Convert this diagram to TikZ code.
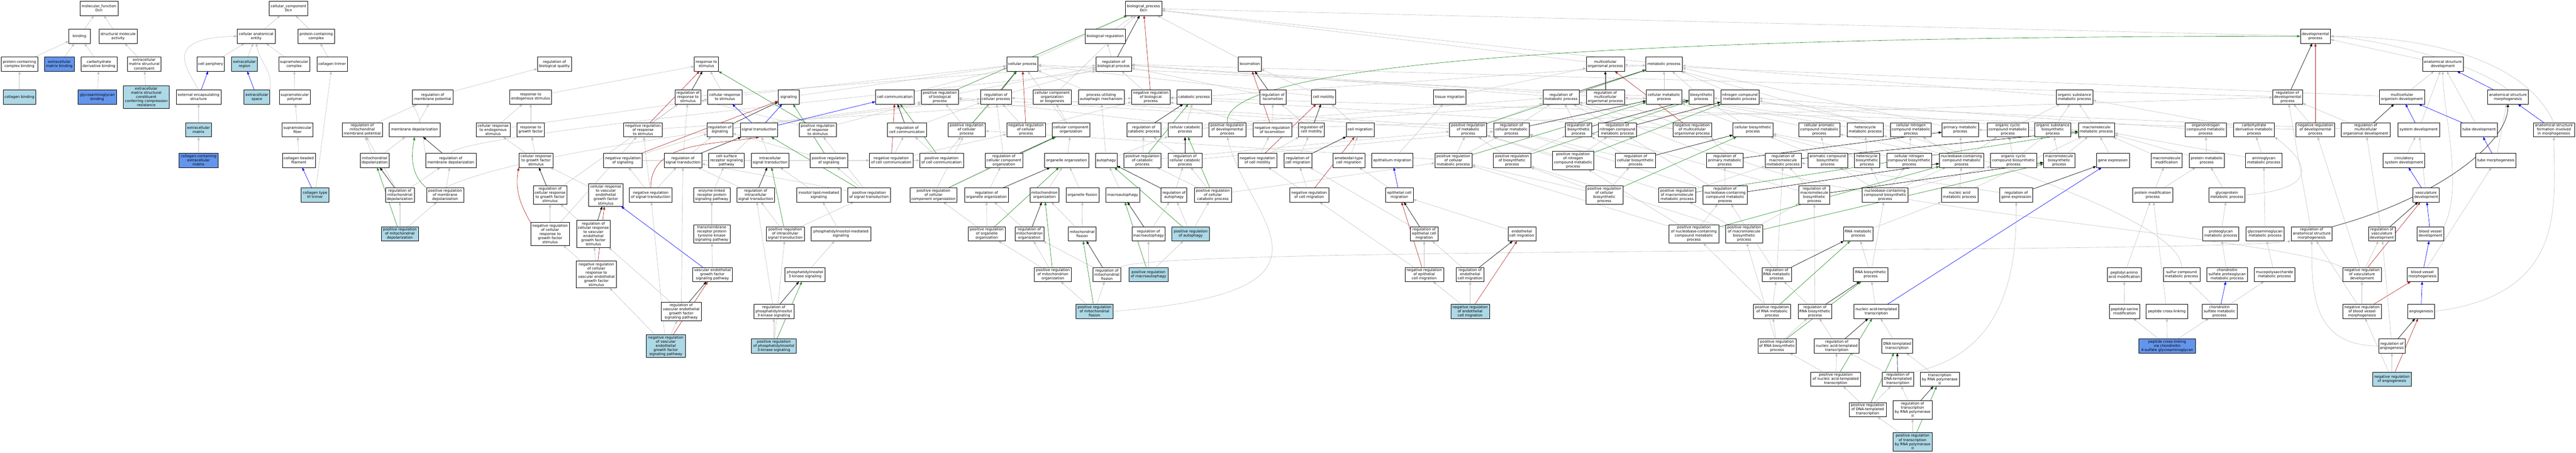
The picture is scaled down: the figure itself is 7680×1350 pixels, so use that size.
\documentclass[tikz,border=0pt]{standalone}
\usepackage{fontspec}
\setmainfont{DejaVu Sans}
\usetikzlibrary{arrows.meta}
\definecolor{lbl}{HTML}{ADD8E6}
\definecolor{cbl}{HTML}{6495ED}
\definecolor{egr}{HTML}{C0C0C0}
\definecolor{egreen}{HTML}{228B22}
\definecolor{ered}{HTML}{B22222}
\pgfdeclarelayer{back}\pgfdeclarelayer{edges}
\pgfsetlayers{back,edges,main}
\tikzset{
 nd/.style={draw=black, line width=0.9pt, fill=white, rectangle, inner sep=0pt, align=center,
   font=\fontsize{10.8}{12.4}\selectfont, minimum height=42pt},
 lbf/.style={fill=lbl}, cbf/.style={fill=cbl},
 hfive/.style={minimum height=55pt}, hsix/.style={minimum height=68pt}, hseven/.style={minimum height=80pt},
 tipx/.style={-{Triangle[length=9pt,width=7pt]}},
 ge/.style={tipx, draw=egr, line width=0.9pt},
 ke/.style={tipx, draw=black, line width=1pt},
 pe/.style={tipx, draw=egreen, line width=1pt},
 ne/.style={tipx, draw=ered, line width=1pt},
 be/.style={tipx, draw=blue, line width=1pt},
}
\newcommand\mkn[6]{\node[nd,minimum width=#4pt,#5] (#1) at (#2,#3) {#6};}
\begin{document}
\begin{tikzpicture}[x=1pt,y=-1pt]
\useasboundingbox (0,0) rectangle (7680,1350);
\begin{pgfonlayer}{back}\fill[white] (0,0) rectangle (7680,1350);\end{pgfonlayer}
% ---------- molecular function
\mkn{mf}{295}{25}{113}{}{molecular\_function\\Dcn}
\mkn{bind}{237}{108}{63}{}{binding}
\mkn{sma}{352}{108}{113}{}{structural molecule\\activity}
\mkn{pcb}{58}{191}{109}{}{protein-containing\\complex binding}
\mkn{ecmb}{177}{191}{88}{cbf}{extracellular\\matrix binding}
\mkn{cdb}{295}{191}{107}{}{carbohydrate\\derivative binding}
\mkn{ecmsc}{430}{191}{100}{}{extracellular\\matrix structural\\constituent}
\mkn{colb}{58}{289}{98}{lbf}{collagen binding}
\mkn{gagb}{290}{289}{114}{cbf}{glycosaminoglycan\\binding}
\mkn{ecmcr}{436}{289}{137}{lbf,hsix}{extracellular\\matrix structural\\constituent\\conferring compression\\resistance}
% ---------- cellular component
\mkn{cc}{860}{25}{116}{}{cellular\_component\\Dcn}
\mkn{cae}{764}{108}{113}{}{cellular anatomical\\entity}
\mkn{pcc}{943}{108}{108}{}{protein-containing\\complex}
\mkn{cper}{628}{191}{81}{}{cell periphery}
\mkn{exreg}{729}{191}{77}{lbf}{extracellular\\region}
\mkn{smc}{877}{191}{92}{}{supramolecular\\complex}
\mkn{coltri}{990}{191}{91}{}{collagen trimer}
\mkn{ees}{592}{289}{134}{}{external encapsulating\\structure}
\mkn{exsp}{766}{289}{77}{lbf}{extracellular\\space}
\mkn{smp}{879}{289}{92}{}{supramolecular\\polymer}
\mkn{ecm}{592}{387}{77}{lbf}{extracellular\\matrix}
\mkn{smf}{887}{387}{92}{}{supramolecular\\fiber}
\mkn{ccecm}{592}{478}{116}{cbf}{collagen-containing\\extracellular\\matrix}
\mkn{cbf}{891}{478}{98}{}{collagen beaded\\filament}
\mkn{col6}{939}{581}{82}{lbf}{collagen type\\VI trimer}
% ---------- membrane potential
\mkn{rmp}{1290}{289}{120}{}{regulation of\\membrane potential}
\mkn{rmmp}{1080}{387}{120}{}{regulation of\\mitochondrial\\membrane potential}
\mkn{mdep}{1236}{387}{151}{}{membrane depolarization}
\mkn{mitdep}{1117}{478}{86}{}{mitochondrial\\depolarization}
\mkn{rmdep}{1344}{478}{150}{}{regulation of\\membrane depolarization}
\mkn{rmitdep}{1192}{581}{86}{}{regulation of\\mitochondrial\\depolarization}
\mkn{prmdep}{1327}{581}{111}{}{positive regulation\\of membrane\\depolarization}
\mkn{prmitdep}{1192}{697}{111}{lbf}{positive regulation\\of mitochondrial\\depolarization}
% ---------- response / signaling
\mkn{rbq}{1653}{191}{102}{}{regulation of\\biological quality}
\mkn{res}{1582}{289}{124}{}{response to\\endogenous stimulus}
\mkn{cres}{1470}{387}{101}{}{cellular response\\to endogenous\\stimulus}
\mkn{rgf}{1582}{387}{81}{}{response to\\growth factor}
\mkn{crgf}{1598}{478}{102}{}{cellular response\\to growth factor\\stimulus}
\mkn{nrrs}{1917}{387}{115}{}{negative regulation\\of response\\to stimulus}
\mkn{nrsig}{1857}{478}{115}{}{negative regulation\\of signaling}
\mkn{rcrgf}{1640}{581}{101}{hfive}{regulation of\\cellular response\\to growth factor\\stimulus}
\mkn{crvegf}{1806}{581}{102}{hsix}{cellular response\\to vascular\\endothelial\\growth factor\\stimulus}
\mkn{nrst}{1940}{581}{127}{}{negative regulation\\of signal transduction}
\mkn{nrcrgf}{1640}{697}{116}{hsix}{negative regulation\\of cellular\\response to\\growth factor\\stimulus}
\mkn{rcrvegf}{1769}{697}{101}{hseven}{regulation of\\cellular response\\to vascular\\endothelial\\growth factor\\stimulus}
\mkn{nrcrvegf}{1778}{818}{120}{hseven}{negative regulation\\of cellular\\response to\\vascular endothelial\\growth factor\\stimulus}
\mkn{rs}{2106}{191}{72}{}{response to\\stimulus}
\mkn{rrs}{2051}{289}{76}{}{regulation of\\response to\\stimulus}
\mkn{crs}{2161}{289}{102}{}{cellular response\\to stimulus}
\mkn{sig}{2351}{289}{62}{}{signaling}
\mkn{rsig}{2146}{387}{76}{}{regulation of\\signaling}
\mkn{st}{2263}{387}{112}{}{signal transduction}
\mkn{prrs}{2438}{387}{110}{}{positive regulation\\of response\\to stimulus}
\mkn{rst}{2036}{478}{112}{}{regulation of\\signal transduction}
\mkn{csr}{2166}{478}{106}{}{cell surface\\receptor signaling\\pathway}
\mkn{ist}{2296}{478}{112}{}{intracellular\\signal transduction}
\mkn{prsig}{2471}{478}{111}{}{positive regulation\\of signaling}
\mkn{elr}{2122}{581}{109}{}{enzyme-linked\\receptor protein\\signaling pathway}
\mkn{rist}{2253}{581}{113}{}{regulation of\\intracellular\\signal transduction}
\mkn{ilms}{2441}{581}{132}{}{inositol lipid-mediated\\signaling}
\mkn{prst}{2591}{581}{127}{}{positive regulation\\of signal transduction}
\mkn{rtk}{2122}{697}{109}{hfive}{transmembrane\\receptor protein\\tyrosine kinase\\signaling pathway}
\mkn{prist}{2341}{697}{113}{}{positive regulation\\of intracellular\\signal transduction}
\mkn{pims}{2507}{697}{178}{}{phosphatidylinositol-mediated\\signaling}
\mkn{vegfsp}{2124}{818}{119}{}{vascular endothelial\\growth factor\\signaling pathway}
\mkn{pi3k}{2400}{818}{119}{}{phosphatidylinositol\\3-kinase signaling}
\mkn{rvegfsp}{2031}{928}{120}{hfive}{regulation of\\vascular endothelial\\growth factor\\signaling pathway}
\mkn{rpi3k}{2307}{928}{120}{}{regulation of\\phosphatidylinositol\\3-kinase signaling}
\mkn{nrvegfsp}{1985}{1031}{116}{lbf,hsix}{negative regulation\\of vascular\\endothelial\\growth factor\\signaling pathway}
\mkn{prpi3k}{2307}{1031}{134}{lbf}{positive regulation\\of phosphatidylinositol\\3-kinase signaling}
% ---------- cellular process block
\mkn{comm}{2668}{289}{116}{}{cell communication}
\mkn{prbp}{2802}{289}{111}{}{positive regulation\\of biological\\process}
\mkn{cp}{3048}{191}{93}{}{cellular process}
\mkn{rcp}{2969}{289}{92}{}{regulation of\\cellular process}
\mkn{ccob}{3137}{289}{113}{}{cellular component\\organization\\or biogenesis}
\mkn{rcomm}{2704}{387}{116}{}{regulation of\\cell communication}
\mkn{prcp}{2882}{387}{111}{}{positive regulation\\of cellular\\process}
\mkn{nrcp}{3059}{387}{116}{}{negative regulation\\of cellular\\process}
\mkn{cco}{3193}{387}{113}{}{cellular component\\organization}
\mkn{nrcomm}{2657}{478}{130}{}{negative regulation\\of cell communication}
\mkn{prcomm}{2807}{478}{130}{}{positive regulation\\of cell communication}
\mkn{rcco}{2993}{478}{113}{}{regulation of\\cellular component\\organization}
\mkn{oo}{3180}{478}{132}{}{organelle organization}
\mkn{prcco}{2783}{581}{141}{}{positive regulation\\of cellular\\component organization}
\mkn{roo}{2941}{581}{131}{}{regulation of\\organelle organization}
\mkn{mo}{3114}{581}{86}{}{mitochondrion\\organization}
\mkn{ofis}{3227}{581}{98}{}{organelle fission}
\mkn{proo}{2942}{697}{110}{}{positive regulation\\of organelle\\organization}
\mkn{rmo}{3069}{697}{86}{}{regulation of\\mitochondrion\\organization}
\mkn{mf2}{3226}{697}{83}{}{mitochondrial\\fission}
\mkn{prmo}{3139}{818}{111}{}{positive regulation\\of mitochondrion\\organization}
% ---------- biological process core
\mkn{bp}{3409}{25}{109}{}{biological\_process\\Dcn}
\mkn{breg}{3295}{108}{120}{}{biological regulation}
\mkn{rbp}{3320}{191}{106}{}{regulation of\\biological process}
\mkn{loco}{3726}{191}{68}{}{locomotion}
\mkn{puam}{3283}{289}{137}{}{process utilizing\\autophagic mechanism}
\mkn{nrbp}{3431}{289}{115}{}{negative regulation\\of biological\\process}
\mkn{catp}{3560}{289}{102}{}{catabolic process}
\mkn{rloco}{3795}{289}{77}{}{regulation of\\locomotion}
\mkn{rcatp}{3410}{387}{102}{}{regulation of\\catabolic process}
\mkn{ccatp}{3533}{387}{102}{}{cellular catabolic\\process}
\mkn{prdp}{3659}{387}{111}{}{positive regulation\\of developmental\\process}
\mkn{nrloco}{3793}{387}{115}{}{negative regulation\\of locomotion}
\mkn{auto}{3298}{478}{64}{}{autophagy}
\mkn{prcatp}{3406}{478}{111}{}{positive regulation\\of catabolic\\process}
\mkn{rccatp}{3533}{478}{102}{}{regulation of\\cellular catabolic\\process}
\mkn{nrcm}{3749}{478}{116}{}{negative regulation\\of cell motility}
\mkn{rcmig}{3869}{478}{83}{}{regulation of\\cell migration}
\mkn{macro}{3347}{581}{101}{}{macroautophagy}
\mkn{rauto}{3500}{581}{77}{}{regulation of\\autophagy}
\mkn{prccatp}{3616}{581}{111}{}{positive regulation\\of cellular\\catabolic process}
\mkn{rmacro}{3424}{697}{99}{}{regulation of\\macroautophagy}
\mkn{prauto}{3550}{697}{112}{lbf}{positive regulation\\of autophagy}
\mkn{rmfis}{3300}{818}{83}{}{regulation of\\mitochondrial\\fission}
\mkn{prmacro}{3424}{818}{116}{lbf}{positive regulation\\of macroautophagy}
\mkn{prmfis}{3263}{928}{111}{lbf}{positive regulation\\of mitochondrial\\fission}
% ---------- motility
\mkn{cmot}{3946}{289}{72}{}{cell motility}
\mkn{tmig}{4322}{289}{97}{}{tissue migration}
\mkn{rcmot}{3910}{387}{77}{}{regulation of\\cell motility}
\mkn{cmig}{4055}{387}{83}{}{cell migration}
\mkn{prmp}{4377}{387}{111}{}{positive regulation\\of metabolic\\process}
\mkn{rcmp}{4506}{387}{107}{}{regulation of\\cellular metabolic\\process}
\mkn{amig}{4021}{478}{95}{}{ameboidal-type\\cell migration}
\mkn{emig}{4151}{478}{123}{}{epithelium migration}
\mkn{prcmp}{4333}{478}{110}{}{positive regulation\\of cellular\\metabolic process}
\mkn{prbsp}{4508}{478}{112}{}{positive regulation\\of biosynthetic\\process}
\mkn{nrcmig}{3903}{581}{116}{}{negative regulation\\of cell migration}
\mkn{ecmig}{4172}{581}{82}{}{epithelial cell\\migration}
\mkn{recmig}{4246}{697}{82}{}{regulation of\\epithelial cell\\migration}
\mkn{nrecmig}{4246}{818}{115}{}{negative regulation\\of epithelial\\cell migration}
\mkn{rendmig}{4383}{818}{83}{}{regulation of\\endothelial\\cell migration}
\mkn{nrendmig}{4383}{928}{115}{lbf}{negative regulation\\of endothelial\\cell migration}
% ---------- metabolism
\mkn{mop}{4786}{191}{114}{}{multicellular\\organismal process}
\mkn{metp}{4961}{191}{108}{}{metabolic process}
\mkn{rmetp}{4654}{289}{108}{}{regulation of\\metabolic process}
\mkn{rmop}{4786}{289}{114}{}{regulation of\\multicellular\\organismal process}
\mkn{cmetp}{4961}{289}{106}{}{cellular metabolic\\process}
\mkn{bsp}{5072}{289}{74}{}{biosynthetic\\process}
\mkn{rbsp}{4706}{387}{77}{}{regulation of\\biosynthetic\\process}
\mkn{rncmp}{4822}{387}{113}{}{regulation of\\nitrogen compound\\metabolic process}
\mkn{nrmop}{5045}{387}{115}{}{negative regulation\\of multicellular\\organismal process}
\mkn{prncmp}{4690}{478}{123}{hfive}{positive regulation\\of nitrogen\\compound metabolic\\process}
\mkn{rcbsp}{4876}{478}{120}{}{regulation of\\cellular biosynthetic\\process}
\mkn{rpmp}{5142}{478}{108}{}{regulation of\\primary metabolic\\process}
\mkn{prcbsp}{4783}{581}{111}{hfive}{positive regulation\\of cellular\\biosynthetic\\process}
\mkn{prmmp}{5000}{581}{111}{}{positive regulation\\of macromolecule\\metabolic process}
\mkn{rnbmp}{5143}{581}{131}{hfive}{regulation of\\nucleobase-containing\\compound metabolic\\process}
\mkn{endmig}{4537}{697}{83}{}{endothelial\\cell migration}
\mkn{prnbmp}{5050}{697}{148}{hfive}{positive regulation\\of nucleobase-containing\\compound metabolic\\process}
\mkn{ncmp}{5187}{289}{114}{}{nitrogen compound\\metabolic process}
\mkn{cbsp}{5226}{387}{119}{}{cellular biosynthetic\\process}
\mkn{camp}{5424}{387}{122}{}{cellular aromatic\\compound metabolic\\process}
\mkn{hmp}{5561}{387}{108}{}{heterocycle\\metabolic process}
\mkn{cncmp}{5697}{387}{122}{}{cellular nitrogen\\compound metabolic\\process}
\mkn{rmmp2}{5316}{478}{108}{}{regulation of\\macromolecule\\metabolic process}
\mkn{acbsp}{5449}{478}{118}{}{aromatic compound\\biosynthetic\\process}
\mkn{hbsp}{5566}{478}{75}{}{heterocycle\\biosynthetic\\process}
\mkn{cncbsp}{5692}{478}{133}{}{cellular nitrogen\\compound biosynthetic\\process}
\mkn{rmbsp}{5409}{581}{92}{hfive}{regulation of\\macromolecule\\biosynthetic\\process}
\mkn{nbbsp}{5620}{581}{137}{}{nucleobase-containing\\compound biosynthetic\\process}
\mkn{prmbsp}{5200}{697}{111}{hfive}{positive regulation\\of macromolecule\\biosynthetic\\process}
\mkn{rnamp}{5540}{697}{88}{}{RNA metabolic\\process}
\mkn{rrnamp}{5297}{818}{88}{}{regulation of\\RNA metabolic\\process}
\mkn{rnabsp}{5577}{818}{102}{}{RNA biosynthetic\\process}
\mkn{prrnamp}{5283}{928}{111}{}{positive regulation\\of RNA metabolic\\process}
\mkn{rrnabsp}{5411}{928}{101}{}{regulation of\\RNA biosynthetic\\process}
\mkn{natt}{5594}{928}{133}{}{nucleic acid-templated\\transcription}
\mkn{prrnabsp}{5298}{1031}{115}{}{positive regulation\\of RNA biosynthetic\\process}
\mkn{rnatt}{5476}{1031}{134}{}{regulation of\\nucleic acid-templated\\transcription}
\mkn{dtt}{5656}{1031}{92}{}{DNA-templated\\transcription}
\mkn{prnatt}{5473}{1130}{149}{}{positive regulation\\of nucleic acid-templated\\transcription}
\mkn{rdtt}{5658}{1130}{93}{}{regulation of\\DNA-templated\\transcription}
\mkn{trp2}{5783}{1130}{117}{}{transcription\\by RNA polymerase\\II}
\mkn{prdtt}{5568}{1221}{111}{}{positive regulation\\of DNA-templated\\transcription}
\mkn{rtrp2}{5702}{1221}{116}{hfive}{regulation of\\transcription\\by RNA polymerase\\II}
\mkn{prtrp2}{5702}{1317}{116}{lbf,hfive}{positive regulation\\of transcription\\by RNA polymerase\\II}
\mkn{osmp}{6185}{289}{108}{}{organic substance\\metabolic process}
\mkn{pmp}{5844}{387}{109}{}{primary metabolic\\process}
\mkn{occmp}{5986}{387}{123}{}{organic cyclic\\compound metabolic\\process}
\mkn{osbsp}{6120}{387}{107}{}{organic substance\\biosynthetic\\process}
\mkn{mmp}{6250}{387}{108}{}{macromolecule\\metabolic process}
\mkn{nbmp}{5848}{478}{132}{}{nucleobase-containing\\compound metabolic\\process}
\mkn{occbsp}{6003}{478}{137}{}{organic cyclic\\compound biosynthetic\\process}
\mkn{mbsp}{6139}{478}{93}{}{macromolecule\\biosynthetic\\process}
\mkn{gexp}{6299}{478}{98}{}{gene expression}
\mkn{namp}{5842}{581}{109}{}{nucleic acid\\metabolic process}
\mkn{rgexp}{6011}{581}{98}{}{regulation of\\gene expression}
\mkn{pmod}{6418}{581}{119}{}{protein modification\\process}
\mkn{paam}{6333}{818}{102}{}{peptidyl-amino\\acid modification}
\mkn{psm}{6334}{928}{90}{}{peptidyl-serine\\modification}
\mkn{pcl}{6460}{928}{124}{}{peptide cross-linking}
\mkn{pclcs}{6461}{1031}{169}{cbf}{peptide cross-linking\\via chondroitin\\4-sulfate glycosaminoglycan}
% ---------- development
\mkn{dp}{6903}{108}{90}{}{developmental\\process}
\mkn{rdp}{6820}{289}{89}{}{regulation of\\developmental\\process}
\mkn{oncmp}{6576}{387}{123}{}{organonitrogen\\compound metabolic\\process}
\mkn{cdmp}{6720}{387}{122}{}{carbohydrate\\derivative metabolic\\process}
\mkn{nrdp}{6903}{387}{115}{}{negative regulation\\of developmental\\process}
\mkn{rmod}{7053}{387}{147}{}{regulation of\\multicellular\\organismal development}
\mkn{mmod}{6459}{478}{92}{}{macromolecule\\modification}
\mkn{protmp}{6579}{478}{104}{}{protein metabolic\\process}
\mkn{amgmp}{6749}{478}{108}{}{aminoglycan\\metabolic process}
\mkn{gpmp}{6639}{581}{108}{}{glycoprotein\\metabolic process}
\mkn{pgmp}{6621}{697}{108}{}{proteoglycan\\metabolic process}
\mkn{gagmp}{6753}{697}{114}{}{glycosaminoglycan\\metabolic process}
\mkn{rasm}{6892}{697}{122}{}{regulation of\\anatomical structure\\morphogenesis}
\mkn{scmp}{6504}{818}{109}{}{sulfur compound\\metabolic process}
\mkn{cspg}{6640}{818}{121}{}{chondroitin\\sulfate proteoglycan\\metabolic process}
\mkn{mpsmp}{6781}{818}{121}{}{mucopolysaccharide\\metabolic process}
\mkn{nrvd}{7042}{818}{116}{}{negative regulation\\of vasculature\\development}
\mkn{csmp}{6617}{928}{104}{}{chondroitin\\sulfate metabolic\\process}
\mkn{nrbvm}{7042}{928}{116}{}{negative regulation\\of blood vessel\\morphogenesis}
\mkn{asd}{7283}{191}{122}{}{anatomical structure\\development}
\mkn{mod}{7161}{289}{136}{}{multicellular\\organism development}
\mkn{asm}{7477}{289}{122}{}{anatomical structure\\morphogenesis}
\mkn{sysd}{7211}{387}{124}{}{system development}
\mkn{tubed}{7391}{387}{108}{}{tube development}
\mkn{asfm}{7614}{387}{122}{}{anatomical structure\\formation involved\\in morphogenesis}
\mkn{csd}{7167}{478}{124}{}{circulatory\\system development}
\mkn{tubem}{7441}{478}{119}{}{tube morphogenesis}
\mkn{vd}{7233}{581}{79}{}{vasculature\\development}
\mkn{rvd}{7101}{697}{79}{}{regulation of\\vasculature\\development}
\mkn{bvd}{7246}{697}{79}{}{blood vessel\\development}
\mkn{bvm}{7222}{818}{92}{}{blood vessel\\morphogenesis}
\mkn{angio}{7218}{928}{79}{}{angiogenesis}
\mkn{rangio}{7131}{1031}{79}{}{regulation of\\angiogenesis}
\mkn{nrangio}{7131}{1130}{116}{lbf}{negative regulation\\of angiogenesis}
% ================= edges
\begin{pgfonlayer}{edges}
\foreach \a/\b in {bind/mf, sma/mf, pcb/bind, ecmb/bind, cdb/bind, ecmsc/sma, colb/pcb, gagb/cdb, ecmcr/ecmsc,
 cae/cc, pcc/cc, cper/cae, exreg/cae, smc/cae, coltri/pcc, smp/smc, smf/smp, cbf/smf, col6/coltri, ecm/ees, ccecm/ecm,
 rmmp/rmp, mdep/rmp, rmp/rbq, mitdep/rmmp, mitdep/mdep, rmitdep/rmdep, rmitdep/rmmp, prmdep/rmdep, prmitdep/rmitdep, prmitdep/prmdep,
 res/rs, cres/res, cres/crs, rgf/res, crgf/rgf, crgf/cres, rcrgf/rrs, nrcrgf/rcrgf, nrcrgf/nrrs, crvegf/crgf, rcrvegf/rcrgf,
 nrcrvegf/rcrvegf, nrcrvegf/nrcrgf, rvegfsp/rcrvegf, nrvegfsp/nrcrvegf,
 nrrs/rrs, nrrs/nrbp, nrsig/rsig, nrsig/nrcomm, nrst/nrsig, nrst/rst, nrst/nrrs,
 rrs/rbp, crs/rs, crs/cp, sig/cp, rsig/rcp, prrs/rrs, prrs/prbp, rst/rsig, rst/rrs, csr/st, ist/st, prsig/rsig, prsig/prcomm,
 elr/csr, rist/rst, ilms/ist, prst/rst, prst/prsig, prst/prrs, rtk/elr, prist/rist, prist/prst, pims/ilms, vegfsp/rtk, pi3k/pims,
 rvegfsp/rst, rpi3k/rist, nrvegfsp/rvegfsp, nrvegfsp/nrst, prpi3k/rpi3k, prpi3k/prist,
 comm/cp, rcomm/rcp, nrcomm/rcomm, nrcomm/nrcp, prcomm/rcomm, prcomm/prcp, prbp/rbp, rcp/rbp, nrcp/rcp, nrcp/nrbp, prcp/rcp,
 prcp/prbp, cp/bp, ccob/bp, cco/ccob, cco/cp, rcco/rcp, prcco/rcco, prcco/prcp, oo/cco, roo/rcco, mo/oo, ofis/oo, proo/roo,
 proo/prcco, rmo/roo, mf2/ofis, mf2/mo, prmo/rmo, prmo/proo, rmfis/rmo, prmfis/rmfis, prmfis/prmo,
 breg/bp, rbp/breg, nrbp/rbp, loco/bp, puam/cp, catp/metp, rloco/rbp, rcatp/rmetp, ccatp/catp, ccatp/cmetp, prdp/prbp, prdp/rdp,
 nrloco/rloco, nrloco/nrbp, auto/puam, auto/ccatp, prcatp/rcatp, prcatp/prmp, rccatp/rcatp, rccatp/rcmp, nrcm/nrloco, nrcm/rcmot,
 rcmig/rcmot, macro/auto, rauto/rccatp, prccatp/rccatp, prccatp/prcatp, prccatp/prcmp, rmacro/rauto, prauto/rauto, prauto/prccatp,
 prmacro/rmacro, prmacro/prauto,
 cmot/loco, cmot/cp, tmig/mop, rcmot/rloco, cmig/cmot, amig/cmig, emig/tmig, nrcmig/rcmig, nrcmig/nrcm, ecmig/amig, recmig/rcmig,
 nrecmig/recmig, nrecmig/nrcmig, rendmig/recmig, nrendmig/rendmig, nrendmig/nrecmig, endmig/ecmig,
 mop/bp, metp/bp, rmetp/rbp, rmop/rbp, cmetp/metp, cmetp/cp, bsp/metp, rbsp/rmetp, rncmp/rmetp, nrmop/rmop, nrmop/nrbp, prmp/rmetp,
 prmp/prbp, rcmp/rmetp, rcmp/rcp, prcmp/prmp, prcmp/rcmp, prcmp/prcp, prbsp/rbsp, prbsp/prmp, prncmp/rncmp, prncmp/prmp,
 rcbsp/rbsp, rcbsp/rcmp, rpmp/rmetp, prcbsp/rcbsp, prcbsp/prbsp, prcbsp/prcmp, prmmp/rmmp2, prmmp/prmp, rnbmp/rcmp, rnbmp/rpmp,
 rnbmp/rncmp, prnbmp/rnbmp, prnbmp/prcmp, prnbmp/prncmp,
 ncmp/metp, cbsp/bsp, cbsp/cmetp, camp/cmetp, hmp/cmetp, cncmp/ncmp, cncmp/cmetp, rmmp2/rmetp, acbsp/camp, acbsp/cbsp, hbsp/hmp,
 hbsp/cbsp, cncbsp/cncmp, cncbsp/cbsp, rmbsp/rmmp2, rmbsp/rbsp, nbbsp/acbsp, nbbsp/hbsp, nbbsp/cncbsp, nbbsp/nbmp, nbbsp/occbsp,
 prmbsp/rmbsp, prmbsp/prbsp, prmbsp/prmmp, rnamp/namp, rrnamp/rnbmp, rrnamp/rmmp2, rnabsp/rnamp, rnabsp/nbbsp, prrnamp/rrnamp,
 prrnamp/prnbmp, rrnabsp/rrnamp, rrnabsp/rmbsp, natt/rnabsp, prrnabsp/rrnabsp, prrnabsp/prrnamp, prrnabsp/prmbsp, rnatt/rrnabsp,
 dtt/natt, prnatt/rnatt, prnatt/prrnabsp, rdtt/rnatt, trp2/dtt, prdtt/rdtt, prdtt/prnatt, rtrp2/rdtt, prtrp2/rtrp2, prtrp2/prdtt,
 osmp/metp, pmp/metp, occmp/osmp, osbsp/osmp, osbsp/bsp, mmp/osmp, mmp/pmp, nbmp/camp, nbmp/hmp, nbmp/cncmp, nbmp/occmp, nbmp/pmp,
 occbsp/occmp, occbsp/osbsp, mbsp/mmp, mbsp/osbsp, gexp/mmp, namp/nbmp, namp/mmp, rgexp/rmmp2, pmod/mmod, pmod/protmp,
 paam/pmod, psm/paam, pclcs/psm, pclcs/pcl, pclcs/csmp, pcl/pmod, mmod/mmp, protmp/mmp, protmp/oncmp, oncmp/ncmp, cdmp/osmp,
 amgmp/cdmp, amgmp/mmp, gpmp/protmp, pgmp/gpmp, gagmp/amgmp, cspg/pgmp, mpsmp/gagmp, csmp/scmp, csmp/mpsmp,
 dp/bp, rdp/rbp, nrdp/rdp, nrdp/nrbp, rmod/rdp, rmod/rmop, asd/dp, mod/asd, mod/mop, sysd/asd, tubed/asd,
 csd/sysd, tubem/asm, vd/sysd, rvd/rmod, bvm/tubem, rangio/rvd, nrvd/rvd, nrvd/nrdp,
 nrbvm/nrvd, nrbvm/rasm, nrangio/rangio, nrangio/nrbvm, rasm/rdp}
 \draw[ge] (\a) -- (\b);
% curved grey edges
\draw[ge] (exsp.north east) to[out=80,in=-80] (cae.south);
\draw[ge] (ees.north) .. controls +(-40,-70) and +(-220,5) .. (cae.west);
\draw[ge] (rmdep.north) .. controls +(20,-60) and +(-300,40) .. (rbp.south west);
\draw[ge] (rmdep.north west) to[out=100,in=-60] (rmp.south west);
\draw[ge] (prmdep.north) .. controls +(200,-100) and +(-500,60) .. (prbp.south west);
\draw[ge] (rdtt.north east) .. controls +(300,-60) and +(0,150) .. (rgexp.south);
\draw[ge] (scmp.north) .. controls +(0,-200) and +(200,60) .. (metp.south east);
\draw[ge] (gpmp.east) .. controls +(250,-20) and +(80,60) .. (cdmp.south east);
\draw[ge] (asm.north) .. controls +(-100,-80) and +(150,10) .. (dp.east);
\draw[ge] (asfm.north) .. controls +(-100,-220) and +(200,0) .. (dp.east);
\draw[ge] (bvd.north east) .. controls +(60,-120) and +(0,120) .. (asd.south);
\draw[ge] (angio.east) .. controls +(400,-50) and +(0,200) .. (asfm.south);
\draw[ge] (rangio.west) .. controls +(-200,0) and +(0,150) .. (rasm.south);
\draw[ge] (nrvd.north west) .. controls +(-200,-100) and +(100,200) .. (nrmop.south east);
\draw[ge] (rmfis.north east) .. controls +(60,-62) and +(-300,38) .. (rasm.south west);
\draw[ge] (prmfis.east) .. controls +(750,-60) and +(60,250) .. (prdp.south);
% black
\foreach \a/\b in {rmdep/mdep, rmitdep/mitdep, rcrgf/crgf, rcrvegf/crvegf, rrs/rs, rsig/sig, rst/st, rist/ist, rvegfsp/vegfsp,
 rpi3k/pi3k, rcomm/comm, rcp/cp, rcco/cco, roo/oo, rmo/mo, rmfis/mf2, rbp/bp, rloco/loco, rcatp/catp, rccatp/ccatp, rcmig/cmig,
 rauto/auto, rmacro/macro, rcmot/cmot, recmig/ecmig, rendmig/endmig, rmetp/metp, rmop/mop, rbsp/bsp, rncmp/ncmp, rcmp/cmetp,
 rcbsp/cbsp, rpmp/pmp, rnbmp/nbmp, rmmp2/mmp, rmbsp/mbsp, rrnamp/rnamp, rrnabsp/rnabsp, rnatt/natt, rdtt/dtt, rtrp2/trp2,
 rgexp/gexp, rdp/dp, rmod/mod, rvd/vd, rangio/angio}
 \draw[ke] (\a) -- (\b);
\draw[ke] (rasm.north east) .. controls +(300,-80) and +(0,120) .. (asm.south);
% green
\foreach \a/\b in {prmitdep/mitdep, prrs/rs, prsig/sig, prst/st, prist/ist, prpi3k/pi3k, prcomm/comm, prbp/bp,
 prcp/cp, prcco/cco, proo/oo, prmo/mo, prmfis/mf2, prcatp/catp, prccatp/ccatp, prauto/auto, prmacro/macro, prmp/metp,
 prcmp/cmetp, prbsp/bsp, prncmp/ncmp, prcbsp/cbsp, prmmp/mmp, prnbmp/nbmp, prmbsp/mbsp, prrnamp/rnamp, prrnabsp/rnabsp,
 prnatt/natt, prdtt/dtt, prtrp2/trp2}
 \draw[pe] (\a) -- (\b);
\draw[pe] (prmdep.north west) to[out=140,in=-100] (mdep.south);
\draw[pe] (prdp.north) .. controls +(-20,-180) and +(-2000,0) .. (dp.west);
% red
\foreach \a/\b in {nrcrvegf/crvegf, nrrs/rs, nrsig/sig, nrvegfsp/vegfsp, nrcomm/comm, nrcp/cp, nrbp/bp,
 nrloco/loco, nrcm/cmot, nrcmig/cmig, nrecmig/ecmig, nrendmig/endmig, nrmop/mop, nrdp/dp, nrvd/vd, nrbvm/bvm, nrangio/angio}
 \draw[ne] (\a) -- (\b);
\draw[ne] (nrcrgf.north west) to[out=120,in=-100] (crgf.south west);
\draw[ne] (nrst.north) to[out=90,in=190] (st.south);
% blue
\foreach \a/\b in {exsp/exreg, ees/cper, col6/cbf, vegfsp/crvegf, st/sig, st/crs, st/comm, ecmig/emig, natt/gexp, csmp/cspg,
 asm/asd, sysd/mod, tubed/mod, asfm/asm, tubem/tubed, vd/csd, bvd/vd, bvm/bvd, angio/bvm}
 \draw[be] (\a) -- (\b);
\end{pgfonlayer}
\end{tikzpicture}
\end{document}
